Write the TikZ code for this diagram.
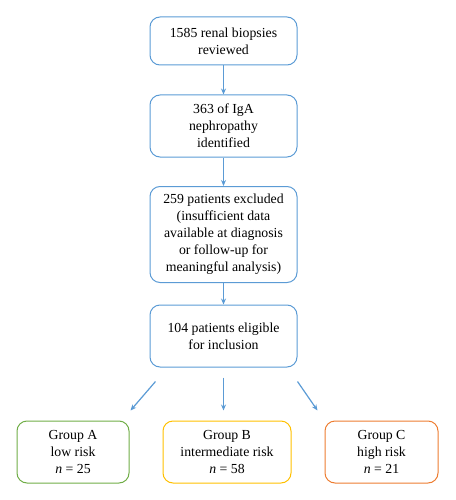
\documentclass[tikz,border=0pt]{standalone}
\usepackage{fontspec}
\setmainfont{Liberation Serif}
\usepackage{tikz}
\usetikzlibrary{arrows.meta,positioning}

\definecolor{boxblue}{RGB}{91,155,213}
\definecolor{boxgreen}{RGB}{112,173,71}
\definecolor{boxyellow}{RGB}{255,192,0}
\definecolor{boxorange}{RGB}{237,125,49}

\begin{document}
\begin{tikzpicture}[x=1pt, y=-1pt,
		stepbox/.style={draw=boxblue, line width=1pt, rounded corners=10pt, align=center,
			minimum width=147pt, inner sep=0pt, font=\fontsize{13.8}{17}\selectfont},
		groupbox/.style={stepbox, minimum height=62pt},
		arr/.style={draw=boxblue, line width=1.2pt, -{Stealth[length=6pt,width=5pt]}}]
			\useasboundingbox (0,0) rectangle (455,500);

			\node[stepbox, minimum height=48pt] (biopsies) at (223.5, 41) {1585 renal biopsies\\reviewed};
			\node[stepbox, minimum height=62pt] (iga) at (223.5, 126) {363 of IgA\\nephropathy\\identified};
			\node[stepbox, minimum height=96pt] (excluded) at (223.5, 234.5) {259 patients excluded\\(insufficient data\\available at diagnosis\\or follow-up for\\meaningful analysis)};
			\node[stepbox, minimum height=62pt] (eligible) at (223.5, 336) {104 patients eligible\\for inclusion};

			\node[groupbox, draw=boxgreen, minimum width=112pt] (groupA) at (73, 452) {Group A\\low risk\\\textit{n} = 25};
			\node[groupbox, draw=boxyellow, minimum width=128pt] (groupB) at (227, 452) {Group B\\intermediate risk\\\textit{n} = 58};
			\node[groupbox, draw=boxorange, minimum width=113pt] (groupC) at (381.5, 452) {Group C\\high risk\\\textit{n} = 21};

			\draw [arr] (biopsies) to (iga);
			\draw [arr] (iga) to (excluded);
			\draw [arr] (excluded) to (eligible);
			\draw [arr] ([xshift=6pt, yshift=-14pt]eligible.south west) to ([xshift=1pt, yshift=10pt]groupA.north east);
			\draw [arr] ([yshift=-10pt]eligible.south) to ([yshift=10pt]eligible.south |- groupB.north);
			\draw [arr] ([yshift=-14pt]eligible.south east) to ([xshift=-7pt, yshift=10pt]groupC.north west);
		\end{tikzpicture}
\end{document}
